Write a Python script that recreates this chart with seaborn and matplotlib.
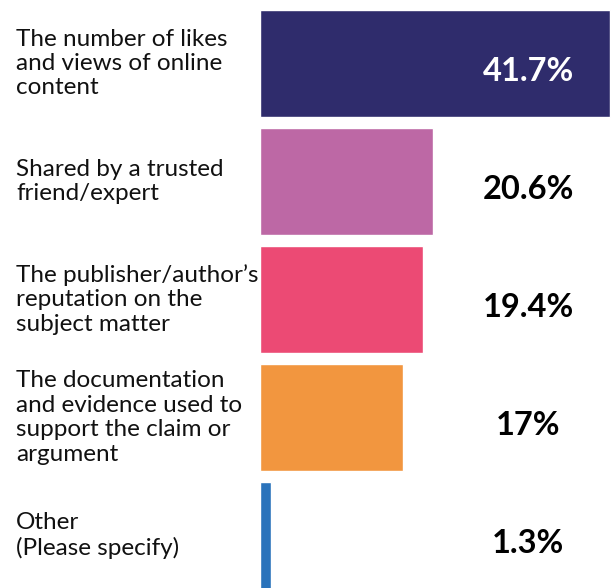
import matplotlib
matplotlib.use("Agg")
import matplotlib.pyplot as plt
import matplotlib.transforms as mtransforms
import seaborn as sns
import pandas as pd

# Survey answers and their shares (%)
categories = [
    "The number of likes\nand views of online\ncontent",
    "Shared by a trusted\nfriend/expert",
    "The publisher/author\u2019s\nreputation on the\nsubject matter",
    "The documentation\nand evidence used to\nsupport the claim or\nargument",
    "Other\n(Please specify)",
]
values = [41.7, 20.6, 19.4, 17, 1.3]
value_labels = ["41.7%", "20.6%", "19.4%", "17%", "1.3%"]
colors = ["#2f2c6c", "#bd68a5", "#ec4a74", "#f2963f", "#2a73bb"]
label_colors = ["white", "black", "black", "black", "black"]

df = pd.DataFrame({"category": categories, "value": values})

sns.set_theme(style="white")
plt.rcParams["font.family"] = ["Lato", "DejaVu Sans"]

fig = plt.figure(figsize=(6.12, 5.88), dpi=100)
ax = fig.add_axes([260 / 612, 0, 352 / 612, 1])

sns.barplot(
    data=df, x="value", y="category", hue="category",
    palette=colors, orient="h", width=0.907, legend=False,
    saturation=1, ax=ax,
)

ax.set_xlim(0, 41.9)
ax.set_ylim(4.445, -0.538)
ax.set_axis_off()

# Category captions on the left, value labels on the right
trans = mtransforms.blended_transform_factory(fig.transFigure, ax.transData)
for i, (cat, val, lab, lc) in enumerate(zip(categories, values, value_labels, label_colors)):
    ax.text(16 / 612, i, cat, transform=trans, ha="left", va="center",
            fontsize=17.5, color="#111111", linespacing=1.2)
    ax.text(31.9, i + 0.07, lab, ha="center", va="center",
            fontsize=23.5, fontweight="bold", color=lc)

fig.savefig("out.png", dpi=100)
